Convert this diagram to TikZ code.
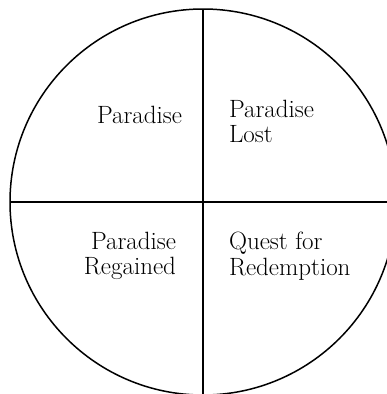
\documentclass[tikz,border=0pt]{standalone}
\begin{document}
\begin{tikzpicture}[x=1pt,y=-1pt,
  ring/.style={draw=black,line width=1.5pt,circle,minimum size=386pt,inner sep=0pt,outer sep=0pt},
  divider/.style={draw=black,line width=1.5pt},
  label/.style={inner sep=0pt,outer sep=0pt,font=\fontsize{25}{25.5}\selectfont}]
\useasboundingbox (0,0) rectangle (387,394);
\clip (0,0) rectangle (387,394);
\node[ring] (c) at (203,202) {};
\draw[divider] (c.north) -- (c.south);
\draw[divider] (c.west) -- (c.east);
\node[label,anchor=base east] (p) at (182,123) {Paradise};
\node[label,anchor=north west,align=left] (pl) at (229,100) {Paradise\\Lost};
\node[label,anchor=north east,align=right] (pr) at (176,232) {Paradise\\Regained};
\node[label,anchor=north west,align=left] (qr) at (229,232) {Quest for\\Redemption};
\end{tikzpicture}
\end{document}
